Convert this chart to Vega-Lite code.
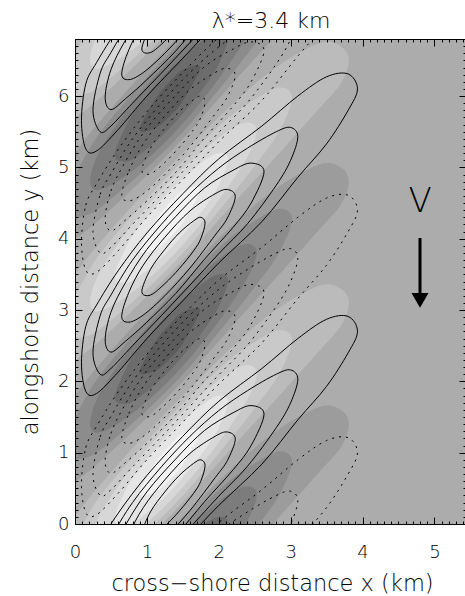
{
  "$schema": "https://vega.github.io/schema/vega-lite/v6.json",
  "width": 391,
  "height": 485,
  "autosize": {"type": "none"},
  "padding": {"left": 75, "top": 39, "right": 0, "bottom": 72},
  "background": "white",
  "config": {
    "view": {"fill": "#acacac", "stroke": null},
    "font": "DejaVu Sans",
    "axis": {"grid": false, "domain": true, "domainColor": "black", "domainWidth": 1, "tickColor": "black", "tickWidth": 1, "labelColor": "black", "titleColor": "black", "labelFont": "DejaVu Sans", "titleFont": "DejaVu Sans", "labelFontWeight": 200, "titleFontWeight": 200, "zindex": 1}
  },
  "resolve": {"axis": {"x": "independent", "y": "independent"}},
  "datasets": {
    "lines": [
      {"l":1,"i":0,"x":0.09,"a":-2.84,"b":-1.14,"c":0.56,"d":2.26,"e":3.96,"f":5.66},
      {"l":1,"i":1,"x":0.15,"a":-2.33,"b":-0.63,"c":1.07,"d":2.77,"e":4.47,"f":6.17},
      {"l":1,"i":2,"x":0.3,"a":-2.03,"b":-0.33,"c":1.37,"d":3.07,"e":4.77,"f":6.47},
      {"l":1,"i":3,"x":0.6,"a":-1.55,"b":0.15,"c":1.85,"d":3.55,"e":5.25,"f":6.95},
      {"l":1,"i":4,"x":1.0,"a":-1.02,"b":0.68,"c":2.38,"d":4.08,"e":5.78,"f":7.48},
      {"l":1,"i":5,"x":1.5,"a":-0.47,"b":1.23,"c":2.93,"d":4.63,"e":6.33,"f":8.03},
      {"l":1,"i":6,"x":2.0,"a":0.02,"b":1.72,"c":3.42,"d":5.12,"e":6.82,"f":8.52},
      {"l":1,"i":7,"x":2.6,"a":0.48,"b":2.18,"c":3.88,"d":5.58,"e":7.28,"f":8.98},
      {"l":1,"i":8,"x":3.1,"a":0.9,"b":2.6,"c":4.3,"d":6.0,"e":7.7,"f":9.4},
      {"l":1,"i":9,"x":3.5,"a":1.17,"b":2.87,"c":4.57,"d":6.27,"e":7.97,"f":9.67},
      {"l":1,"i":10,"x":3.8,"a":1.21,"b":2.91,"c":4.61,"d":6.31,"e":8.01,"f":9.71},
      {"l":1,"i":11,"x":3.93,"a":1.0,"b":2.7,"c":4.4,"d":6.1,"e":7.8,"f":9.5},
      {"l":1,"i":12,"x":3.8,"a":0.7,"b":2.4,"c":4.1,"d":5.8,"e":7.5,"f":9.2},
      {"l":1,"i":13,"x":3.5,"a":0.23,"b":1.93,"c":3.63,"d":5.33,"e":7.03,"f":8.73},
      {"l":1,"i":14,"x":3.1,"a":-0.24,"b":1.46,"c":3.16,"d":4.86,"e":6.56,"f":8.26},
      {"l":1,"i":15,"x":2.6,"a":-0.86,"b":0.84,"c":2.54,"d":4.24,"e":5.94,"f":7.64},
      {"l":1,"i":16,"x":2.0,"a":-1.44,"b":0.26,"c":1.96,"d":3.66,"e":5.36,"f":7.06},
      {"l":1,"i":17,"x":1.5,"a":-1.97,"b":-0.27,"c":1.43,"d":3.13,"e":4.83,"f":6.53},
      {"l":1,"i":18,"x":1.0,"a":-2.5,"b":-0.8,"c":0.9,"d":2.6,"e":4.3,"f":6.0},
      {"l":1,"i":19,"x":0.6,"a":-2.97,"b":-1.27,"c":0.43,"d":2.13,"e":3.83,"f":5.53},
      {"l":1,"i":20,"x":0.3,"a":-3.27,"b":-1.57,"c":0.13,"d":1.83,"e":3.53,"f":5.23},
      {"l":1,"i":21,"x":0.15,"a":-3.24,"b":-1.54,"c":0.16,"d":1.86,"e":3.56,"f":5.26},

      {"l":2,"i":0,"x":0.25,"a":-2.7,"b":-1.0,"c":0.7,"d":2.4,"e":4.1,"f":5.8},
      {"l":2,"i":1,"x":0.35,"a":-2.18,"b":-0.48,"c":1.22,"d":2.92,"e":4.62,"f":6.32},
      {"l":2,"i":2,"x":0.5,"a":-1.89,"b":-0.19,"c":1.51,"d":3.21,"e":4.91,"f":6.61},
      {"l":2,"i":3,"x":0.8,"a":-1.4,"b":0.3,"c":2.0,"d":3.7,"e":5.4,"f":7.1},
      {"l":2,"i":4,"x":1.2,"a":-0.9,"b":0.8,"c":2.5,"d":4.2,"e":5.9,"f":7.6},
      {"l":2,"i":5,"x":1.6,"a":-0.47,"b":1.23,"c":2.93,"d":4.63,"e":6.33,"f":8.03},
      {"l":2,"i":6,"x":2.0,"a":-0.11,"b":1.59,"c":3.29,"d":4.99,"e":6.69,"f":8.39},
      {"l":2,"i":7,"x":2.4,"a":0.17,"b":1.87,"c":3.57,"d":5.27,"e":6.97,"f":8.67},
      {"l":2,"i":8,"x":2.8,"a":0.4,"b":2.1,"c":3.8,"d":5.5,"e":7.2,"f":8.9},
      {"l":2,"i":9,"x":3.0,"a":0.46,"b":2.16,"c":3.86,"d":5.56,"e":7.26,"f":8.96},
      {"l":2,"i":10,"x":3.1,"a":0.33,"b":2.03,"c":3.73,"d":5.43,"e":7.13,"f":8.83},
      {"l":2,"i":11,"x":3.0,"a":0.0,"b":1.7,"c":3.4,"d":5.1,"e":6.8,"f":8.5},
      {"l":2,"i":12,"x":2.8,"a":-0.35,"b":1.35,"c":3.05,"d":4.75,"e":6.45,"f":8.15},
      {"l":2,"i":13,"x":2.4,"a":-0.89,"b":0.81,"c":2.51,"d":4.21,"e":5.91,"f":7.61},
      {"l":2,"i":14,"x":2.0,"a":-1.31,"b":0.39,"c":2.09,"d":3.79,"e":5.49,"f":7.19},
      {"l":2,"i":15,"x":1.6,"a":-1.75,"b":-0.05,"c":1.65,"d":3.35,"e":5.05,"f":6.75},
      {"l":2,"i":16,"x":1.2,"a":-2.18,"b":-0.48,"c":1.22,"d":2.92,"e":4.62,"f":6.32},
      {"l":2,"i":17,"x":0.8,"a":-2.6,"b":-0.9,"c":0.8,"d":2.5,"e":4.2,"f":5.9},
      {"l":2,"i":18,"x":0.5,"a":-2.92,"b":-1.22,"c":0.48,"d":2.18,"e":3.88,"f":5.58},
      {"l":2,"i":19,"x":0.35,"a":-3.0,"b":-1.3,"c":0.4,"d":2.1,"e":3.8,"f":5.5},

      {"l":3,"i":0,"x":0.42,"a":-2.52,"b":-0.82,"c":0.88,"d":2.58,"e":4.28,"f":5.98},
      {"l":3,"i":1,"x":0.5,"a":-2.13,"b":-0.43,"c":1.27,"d":2.97,"e":4.67,"f":6.37},
      {"l":3,"i":2,"x":0.7,"a":-1.72,"b":-0.02,"c":1.68,"d":3.38,"e":5.08,"f":6.78},
      {"l":3,"i":3,"x":1.0,"a":-1.25,"b":0.45,"c":2.15,"d":3.85,"e":5.55,"f":7.25},
      {"l":3,"i":4,"x":1.4,"a":-0.79,"b":0.91,"c":2.61,"d":4.31,"e":6.01,"f":7.71},
      {"l":3,"i":5,"x":1.8,"a":-0.39,"b":1.31,"c":3.01,"d":4.71,"e":6.41,"f":8.11},
      {"l":3,"i":6,"x":2.2,"a":-0.14,"b":1.56,"c":3.26,"d":4.96,"e":6.66,"f":8.36},
      {"l":3,"i":7,"x":2.45,"a":-0.04,"b":1.66,"c":3.36,"d":5.06,"e":6.76,"f":8.46},
      {"l":3,"i":8,"x":2.63,"a":-0.16,"b":1.54,"c":3.24,"d":4.94,"e":6.64,"f":8.34},
      {"l":3,"i":9,"x":2.45,"a":-0.6,"b":1.1,"c":2.8,"d":4.5,"e":6.2,"f":7.9},
      {"l":3,"i":10,"x":2.2,"a":-0.94,"b":0.76,"c":2.46,"d":4.16,"e":5.86,"f":7.56},
      {"l":3,"i":11,"x":1.8,"a":-1.39,"b":0.31,"c":2.01,"d":3.71,"e":5.41,"f":7.11},
      {"l":3,"i":12,"x":1.4,"a":-1.87,"b":-0.17,"c":1.53,"d":3.23,"e":4.93,"f":6.63},
      {"l":3,"i":13,"x":1.0,"a":-2.27,"b":-0.57,"c":1.13,"d":2.83,"e":4.53,"f":6.23},
      {"l":3,"i":14,"x":0.7,"a":-2.54,"b":-0.84,"c":0.86,"d":2.56,"e":4.26,"f":5.96},
      {"l":3,"i":15,"x":0.5,"a":-2.69,"b":-0.99,"c":0.71,"d":2.41,"e":4.11,"f":5.81},

      {"l":4,"i":0,"x":0.65,"a":-2.19,"b":-0.49,"c":1.21,"d":2.91,"e":4.61,"f":6.31},
      {"l":4,"i":1,"x":0.75,"a":-1.85,"b":-0.15,"c":1.55,"d":3.25,"e":4.95,"f":6.65},
      {"l":4,"i":2,"x":0.95,"a":-1.47,"b":0.23,"c":1.93,"d":3.63,"e":5.33,"f":7.03},
      {"l":4,"i":3,"x":1.25,"a":-1.08,"b":0.62,"c":2.32,"d":4.02,"e":5.72,"f":7.42},
      {"l":4,"i":4,"x":1.6,"a":-0.71,"b":0.99,"c":2.69,"d":4.39,"e":6.09,"f":7.79},
      {"l":4,"i":5,"x":1.95,"a":-0.47,"b":1.23,"c":2.93,"d":4.63,"e":6.33,"f":8.03},
      {"l":4,"i":6,"x":2.12,"a":-0.41,"b":1.29,"c":2.99,"d":4.69,"e":6.39,"f":8.09},
      {"l":4,"i":7,"x":2.23,"a":-0.51,"b":1.19,"c":2.89,"d":4.59,"e":6.29,"f":7.99},
      {"l":4,"i":8,"x":2.12,"a":-0.81,"b":0.89,"c":2.59,"d":4.29,"e":5.99,"f":7.69},
      {"l":4,"i":9,"x":1.95,"a":-1.05,"b":0.65,"c":2.35,"d":4.05,"e":5.75,"f":7.45},
      {"l":4,"i":10,"x":1.6,"a":-1.51,"b":0.19,"c":1.89,"d":3.59,"e":5.29,"f":6.99},
      {"l":4,"i":11,"x":1.25,"a":-1.9,"b":-0.2,"c":1.5,"d":3.2,"e":4.9,"f":6.6},
      {"l":4,"i":12,"x":0.95,"a":-2.17,"b":-0.47,"c":1.23,"d":2.93,"e":4.63,"f":6.33},
      {"l":4,"i":13,"x":0.75,"a":-2.27,"b":-0.57,"c":1.13,"d":2.83,"e":4.53,"f":6.23},

      {"l":5,"i":0,"x":0.93,"a":-1.84,"b":-0.14,"c":1.56,"d":3.26,"e":4.96,"f":6.66},
      {"l":5,"i":1,"x":1.05,"a":-1.53,"b":0.17,"c":1.87,"d":3.57,"e":5.27,"f":6.97},
      {"l":5,"i":2,"x":1.25,"a":-1.25,"b":0.45,"c":2.15,"d":3.85,"e":5.55,"f":7.25},
      {"l":5,"i":3,"x":1.45,"a":-1.02,"b":0.68,"c":2.38,"d":4.08,"e":5.78,"f":7.48},
      {"l":5,"i":4,"x":1.65,"a":-0.85,"b":0.85,"c":2.55,"d":4.25,"e":5.95,"f":7.65},
      {"l":5,"i":5,"x":1.75,"a":-0.8,"b":0.9,"c":2.6,"d":4.3,"e":6.0,"f":7.7},
      {"l":5,"i":6,"x":1.81,"a":-0.88,"b":0.82,"c":2.52,"d":4.22,"e":5.92,"f":7.62},
      {"l":5,"i":7,"x":1.75,"a":-1.1,"b":0.6,"c":2.3,"d":4.0,"e":5.7,"f":7.4},
      {"l":5,"i":8,"x":1.65,"a":-1.27,"b":0.43,"c":2.13,"d":3.83,"e":5.53,"f":7.23},
      {"l":5,"i":9,"x":1.45,"a":-1.52,"b":0.18,"c":1.88,"d":3.58,"e":5.28,"f":6.98},
      {"l":5,"i":10,"x":1.25,"a":-1.73,"b":-0.03,"c":1.67,"d":3.37,"e":5.07,"f":6.77},
      {"l":5,"i":11,"x":1.05,"a":-1.89,"b":-0.19,"c":1.51,"d":3.21,"e":4.91,"f":6.61}
    ],
    "shade": [
      {"l":1,"i":0,"x":-0.2,"a":-1.8,"b":-0.1,"c":1.6,"d":3.3,"e":5.0,"f":6.7},
      {"l":1,"i":1,"x":0,"a":-1.59,"b":0.11,"c":1.81,"d":3.51,"e":5.21,"f":6.91},
      {"l":1,"i":2,"x":0.3,"a":-1.21,"b":0.49,"c":2.19,"d":3.89,"e":5.59,"f":7.29},
      {"l":1,"i":3,"x":0.9,"a":-0.53,"b":1.17,"c":2.87,"d":4.57,"e":6.27,"f":7.97},
      {"l":1,"i":4,"x":1.5,"a":0.1,"b":1.8,"c":3.5,"d":5.2,"e":6.9,"f":8.6},
      {"l":1,"i":5,"x":2.13,"a":0.73,"b":2.43,"c":4.13,"d":5.83,"e":7.53,"f":9.23},
      {"l":1,"i":6,"x":2.78,"a":1.29,"b":2.99,"c":4.69,"d":6.39,"e":8.09,"f":9.79},
      {"l":1,"i":7,"x":3.4,"a":1.64,"b":3.34,"c":5.04,"d":6.74,"e":8.44,"f":10.14},
      {"l":1,"i":8,"x":3.7,"a":1.6,"b":3.3,"c":5.0,"d":6.7,"e":8.4,"f":10.1},
      {"l":1,"i":9,"x":3.81,"a":1.4,"b":3.1,"c":4.8,"d":6.5,"e":8.2,"f":9.9},
      {"l":1,"i":10,"x":3.7,"a":1.08,"b":2.78,"c":4.48,"d":6.18,"e":7.88,"f":9.58},
      {"l":1,"i":11,"x":3.4,"a":0.73,"b":2.43,"c":4.13,"d":5.83,"e":7.53,"f":9.23},
      {"l":1,"i":12,"x":2.78,"a":0.03,"b":1.73,"c":3.43,"d":5.13,"e":6.83,"f":8.53},
      {"l":1,"i":13,"x":2.13,"a":-0.69,"b":1.01,"c":2.71,"d":4.41,"e":6.11,"f":7.81},
      {"l":1,"i":14,"x":1.5,"a":-1.4,"b":0.3,"c":2.0,"d":3.7,"e":5.4,"f":7.1},
      {"l":1,"i":15,"x":0.9,"a":-2.01,"b":-0.31,"c":1.39,"d":3.09,"e":4.79,"f":6.49},
      {"l":1,"i":16,"x":0.3,"a":-2.57,"b":-0.87,"c":0.83,"d":2.53,"e":4.23,"f":5.93},
      {"l":1,"i":17,"x":0,"a":-2.81,"b":-1.11,"c":0.59,"d":2.29,"e":3.99,"f":5.69},
      {"l":1,"i":18,"x":-0.2,"a":-3.0,"b":-1.3,"c":0.4,"d":2.1,"e":3.8,"f":5.5},

      {"l":2,"i":0,"x":-0.1,"a":-2.3,"b":-0.6,"c":1.1,"d":2.8,"e":4.5,"f":6.2},
      {"l":2,"i":1,"x":0,"a":-1.92,"b":-0.22,"c":1.48,"d":3.18,"e":4.88,"f":6.58},
      {"l":2,"i":2,"x":0.15,"a":-1.63,"b":0.07,"c":1.77,"d":3.47,"e":5.17,"f":6.87},
      {"l":2,"i":3,"x":0.3,"a":-1.38,"b":0.32,"c":2.02,"d":3.72,"e":5.42,"f":7.12},
      {"l":2,"i":4,"x":0.6,"a":-1.0,"b":0.7,"c":2.4,"d":4.1,"e":5.8,"f":7.5},
      {"l":2,"i":5,"x":1.1,"a":-0.43,"b":1.27,"c":2.97,"d":4.67,"e":6.37,"f":8.07},
      {"l":2,"i":6,"x":1.6,"a":0.09,"b":1.79,"c":3.49,"d":5.19,"e":6.89,"f":8.59},
      {"l":2,"i":7,"x":2.13,"a":0.59,"b":2.29,"c":3.99,"d":5.69,"e":7.39,"f":9.09},
      {"l":2,"i":8,"x":2.53,"a":0.87,"b":2.57,"c":4.27,"d":5.97,"e":7.67,"f":9.37},
      {"l":2,"i":9,"x":2.85,"a":1.02,"b":2.72,"c":4.42,"d":6.12,"e":7.82,"f":9.52},
      {"l":2,"i":10,"x":3.02,"a":0.88,"b":2.58,"c":4.28,"d":5.98,"e":7.68,"f":9.38},
      {"l":2,"i":11,"x":2.85,"a":0.42,"b":2.12,"c":3.82,"d":5.52,"e":7.22,"f":8.92},
      {"l":2,"i":12,"x":2.53,"a":-0.04,"b":1.66,"c":3.36,"d":5.06,"e":6.76,"f":8.46},
      {"l":2,"i":13,"x":2.13,"a":-0.55,"b":1.15,"c":2.85,"d":4.55,"e":6.25,"f":7.95},
      {"l":2,"i":14,"x":1.6,"a":-1.19,"b":0.51,"c":2.21,"d":3.91,"e":5.61,"f":7.31},
      {"l":2,"i":15,"x":1.1,"a":-1.71,"b":-0.01,"c":1.69,"d":3.39,"e":5.09,"f":6.79},
      {"l":2,"i":16,"x":0.6,"a":-2.16,"b":-0.46,"c":1.24,"d":2.94,"e":4.64,"f":6.34},
      {"l":2,"i":17,"x":0.3,"a":-2.4,"b":-0.7,"c":1.0,"d":2.7,"e":4.4,"f":6.1},
      {"l":2,"i":18,"x":0.15,"a":-2.47,"b":-0.77,"c":0.93,"d":2.63,"e":4.33,"f":6.03},
      {"l":2,"i":19,"x":0,"a":-2.48,"b":-0.78,"c":0.92,"d":2.62,"e":4.32,"f":6.02},

      {"l":3,"i":0,"x":0.21,"a":-1.99,"b":-0.29,"c":1.41,"d":3.11,"e":4.81,"f":6.51},
      {"l":3,"i":1,"x":0.3,"a":-1.66,"b":0.04,"c":1.74,"d":3.44,"e":5.14,"f":6.84},
      {"l":3,"i":2,"x":0.55,"a":-1.24,"b":0.46,"c":2.16,"d":3.86,"e":5.56,"f":7.26},
      {"l":3,"i":3,"x":0.9,"a":-0.77,"b":0.93,"c":2.63,"d":4.33,"e":6.03,"f":7.73},
      {"l":3,"i":4,"x":1.3,"a":-0.32,"b":1.38,"c":3.08,"d":4.78,"e":6.48,"f":8.18},
      {"l":3,"i":5,"x":1.74,"a":0.1,"b":1.8,"c":3.5,"d":5.2,"e":6.9,"f":8.6},
      {"l":3,"i":6,"x":2.13,"a":0.41,"b":2.11,"c":3.81,"d":5.51,"e":7.21,"f":8.91},
      {"l":3,"i":7,"x":2.4,"a":0.53,"b":2.23,"c":3.93,"d":5.63,"e":7.33,"f":9.03},
      {"l":3,"i":8,"x":2.53,"a":0.41,"b":2.11,"c":3.81,"d":5.51,"e":7.21,"f":8.91},
      {"l":3,"i":9,"x":2.4,"a":0.05,"b":1.75,"c":3.45,"d":5.15,"e":6.85,"f":8.55},
      {"l":3,"i":10,"x":2.13,"a":-0.37,"b":1.33,"c":3.03,"d":4.73,"e":6.43,"f":8.13},
      {"l":3,"i":11,"x":1.74,"a":-0.9,"b":0.8,"c":2.5,"d":4.2,"e":5.9,"f":7.6},
      {"l":3,"i":12,"x":1.3,"a":-1.4,"b":0.3,"c":2.0,"d":3.7,"e":5.4,"f":7.1},
      {"l":3,"i":13,"x":0.9,"a":-1.77,"b":-0.07,"c":1.63,"d":3.33,"e":5.03,"f":6.73},
      {"l":3,"i":14,"x":0.55,"a":-2.02,"b":-0.32,"c":1.38,"d":3.08,"e":4.78,"f":6.48},
      {"l":3,"i":15,"x":0.3,"a":-2.12,"b":-0.42,"c":1.28,"d":2.98,"e":4.68,"f":6.38},

      {"l":4,"i":0,"x":0.55,"a":-1.63,"b":0.07,"c":1.77,"d":3.47,"e":5.17,"f":6.87},
      {"l":4,"i":1,"x":0.7,"a":-1.24,"b":0.46,"c":2.16,"d":3.86,"e":5.56,"f":7.26},
      {"l":4,"i":2,"x":0.9,"a":-0.92,"b":0.78,"c":2.48,"d":4.18,"e":5.88,"f":7.58},
      {"l":4,"i":3,"x":1.3,"a":-0.45,"b":1.25,"c":2.95,"d":4.65,"e":6.35,"f":8.05},
      {"l":4,"i":4,"x":1.74,"a":-0.05,"b":1.65,"c":3.35,"d":5.05,"e":6.75,"f":8.45},
      {"l":4,"i":5,"x":2.0,"a":0.1,"b":1.8,"c":3.5,"d":5.2,"e":6.9,"f":8.6},
      {"l":4,"i":6,"x":2.13,"a":0.02,"b":1.72,"c":3.42,"d":5.12,"e":6.82,"f":8.52},
      {"l":4,"i":7,"x":2.0,"a":-0.35,"b":1.35,"c":3.05,"d":4.75,"e":6.45,"f":8.15},
      {"l":4,"i":8,"x":1.74,"a":-0.75,"b":0.95,"c":2.65,"d":4.35,"e":6.05,"f":7.75},
      {"l":4,"i":9,"x":1.3,"a":-1.27,"b":0.43,"c":2.13,"d":3.83,"e":5.53,"f":7.23},
      {"l":4,"i":10,"x":0.9,"a":-1.62,"b":0.08,"c":1.78,"d":3.48,"e":5.18,"f":6.88},
      {"l":4,"i":11,"x":0.7,"a":-1.72,"b":-0.02,"c":1.68,"d":3.38,"e":5.08,"f":6.78},

      {"l":5,"i":0,"x":0.9,"a":-1.27,"b":0.43,"c":2.13,"d":3.83,"e":5.53,"f":7.23},
      {"l":5,"i":1,"x":1.1,"a":-0.87,"b":0.83,"c":2.53,"d":4.23,"e":5.93,"f":7.63},
      {"l":5,"i":2,"x":1.3,"a":-0.62,"b":1.08,"c":2.78,"d":4.48,"e":6.18,"f":7.88},
      {"l":5,"i":3,"x":1.5,"a":-0.43,"b":1.27,"c":2.97,"d":4.67,"e":6.37,"f":8.07},
      {"l":5,"i":4,"x":1.74,"a":-0.4,"b":1.3,"c":3.0,"d":4.7,"e":6.4,"f":8.1},
      {"l":5,"i":5,"x":1.5,"a":-0.87,"b":0.83,"c":2.53,"d":4.23,"e":5.93,"f":7.63},
      {"l":5,"i":6,"x":1.3,"a":-1.1,"b":0.6,"c":2.3,"d":4.0,"e":5.7,"f":7.4},
      {"l":5,"i":7,"x":1.1,"a":-1.26,"b":0.44,"c":2.14,"d":3.84,"e":5.54,"f":7.24}
    ]
  },
  "layer": [
    {
      "data": {"name": "shade"},
      "transform": [{"filter": "datum.l == 1"}, {"fold": ["b", "d", "f"], "as": ["copy", "y"]}],
      "mark": {"type": "line", "filled": true, "interpolate": "cardinal-closed", "clip": true, "color": "#bbbbbb", "strokeWidth": 0},
      "encoding": {
        "x": {"field": "x", "type": "quantitative", "scale": {"domain": [0, 5.44], "nice": false, "zero": false},
          "axis": {"orient": "bottom", "zindex": 2, "values": [0,0.1,0.2,0.3,0.4,0.5,0.6,0.7,0.8,0.9,1,1.1,1.2,1.3,1.4,1.5,1.6,1.7,1.8,1.9,2,2.1,2.2,2.3,2.4,2.5,2.6,2.7,2.8,2.9,3,3.1,3.2,3.3,3.4,3.5,3.6,3.7,3.8,3.9,4,4.1,4.2,4.3,4.4,4.5,4.6,4.7,4.8,4.9,5,5.1,5.2,5.3,5.4],
            "labelExpr": "datum.value % 1 === 0 ? datum.value : ''", "labelOverlap": false, "labelBound": false, "labelFlush": false, "labelFontSize": 18, "labelPadding": 26,
            "tickSize": {"condition": {"test": "datum.value % 1 === 0", "value": -7}, "value": -3},
            "title": "cross−shore distance x (km)", "titleFontSize": 22.5, "titleX": 197, "titleY": 66, "titleBaseline": "alphabetic", "titleAlign": "center"}},
        "y": {"field": "y", "type": "quantitative", "scale": {"domain": [0, 6.8], "nice": false, "zero": false},
          "axis": {"orient": "left", "zindex": 2, "values": [0,0.1,0.2,0.3,0.4,0.5,0.6,0.7,0.8,0.9,1,1.1,1.2,1.3,1.4,1.5,1.6,1.7,1.8,1.9,2,2.1,2.2,2.3,2.4,2.5,2.6,2.7,2.8,2.9,3,3.1,3.2,3.3,3.4,3.5,3.6,3.7,3.8,3.9,4,4.1,4.2,4.3,4.4,4.5,4.6,4.7,4.8,4.9,5,5.1,5.2,5.3,5.4,5.5,5.6,5.7,5.8,5.9,6,6.1,6.2,6.3,6.4,6.5,6.6,6.7,6.8],
            "labelExpr": "datum.value % 1 === 0 ? datum.value : ''", "labelOverlap": false, "labelBound": false, "labelFlush": false, "labelFontSize": 18, "labelPadding": 13,
            "tickSize": {"condition": {"test": "datum.value % 1 === 0", "value": -7}, "value": -3},
            "title": "alongshore distance y (km)", "titleFontSize": 22.5, "titleX": -38, "titleBaseline": "alphabetic"}},
        "detail": {"field": "copy"},
        "order": {"field": "i"}
      }
    },
    {
      "data": {"name": "shade"},
      "transform": [{"filter": "datum.l == 1"}, {"fold": ["a", "c", "e"], "as": ["copy", "y"]}],
      "mark": {"type": "line", "filled": true, "interpolate": "cardinal-closed", "clip": true, "color": "#9c9c9c", "strokeWidth": 0},
      "encoding": {
        "x": {"field": "x", "type": "quantitative",
          "axis": {"orient": "top", "zindex": 2, "values": [0,0.1,0.2,0.3,0.4,0.5,0.6,0.7,0.8,0.9,1,1.1,1.2,1.3,1.4,1.5,1.6,1.7,1.8,1.9,2,2.1,2.2,2.3,2.4,2.5,2.6,2.7,2.8,2.9,3,3.1,3.2,3.3,3.4,3.5,3.6,3.7,3.8,3.9,4,4.1,4.2,4.3,4.4,4.5,4.6,4.7,4.8,4.9,5,5.1,5.2,5.3,5.4],
            "labels": false,
            "tickSize": {"condition": {"test": "datum.value % 1 === 0", "value": -7}, "value": -3},
            "title": "λ*=3.4 km", "titleFontSize": 22, "titleX": 195.5, "titleY": -12, "titleBaseline": "alphabetic", "titleAlign": "center", "titleAngle": 0}},
        "y": {"field": "y", "type": "quantitative",
          "axis": {"orient": "right", "zindex": 2, "values": [0,0.1,0.2,0.3,0.4,0.5,0.6,0.7,0.8,0.9,1,1.1,1.2,1.3,1.4,1.5,1.6,1.7,1.8,1.9,2,2.1,2.2,2.3,2.4,2.5,2.6,2.7,2.8,2.9,3,3.1,3.2,3.3,3.4,3.5,3.6,3.7,3.8,3.9,4,4.1,4.2,4.3,4.4,4.5,4.6,4.7,4.8,4.9,5,5.1,5.2,5.3,5.4,5.5,5.6,5.7,5.8,5.9,6,6.1,6.2,6.3,6.4,6.5,6.6,6.7,6.8],
            "labels": false, "title": null,
            "tickSize": {"condition": {"test": "datum.value % 1 === 0", "value": -7}, "value": -3}}},
        "detail": {"field": "copy"},
        "order": {"field": "i"}
      }
    },
    {
      "data": {"name": "shade"},
      "transform": [{"filter": "datum.l == 2"}, {"fold": ["b", "d", "f"], "as": ["copy", "y"]}],
      "mark": {"type": "line", "filled": true, "interpolate": "cardinal-closed", "clip": true, "color": "#c9c9c9", "strokeWidth": 0},
      "encoding": {"x": {"field": "x", "type": "quantitative", "axis": null}, "y": {"field": "y", "type": "quantitative", "axis": null}, "detail": {"field": "copy"}, "order": {"field": "i"}}
    },
    {
      "data": {"name": "shade"},
      "transform": [{"filter": "datum.l == 2"}, {"fold": ["a", "c", "e"], "as": ["copy", "y"]}],
      "mark": {"type": "line", "filled": true, "interpolate": "cardinal-closed", "clip": true, "color": "#8c8c8c", "strokeWidth": 0},
      "encoding": {"x": {"field": "x", "type": "quantitative", "axis": null}, "y": {"field": "y", "type": "quantitative", "axis": null}, "detail": {"field": "copy"}, "order": {"field": "i"}}
    },
    {
      "data": {"name": "shade"},
      "transform": [{"filter": "datum.l == 3"}, {"fold": ["b", "d", "f"], "as": ["copy", "y"]}],
      "mark": {"type": "line", "filled": true, "interpolate": "cardinal-closed", "clip": true, "color": "#d7d7d7", "strokeWidth": 0},
      "encoding": {"x": {"field": "x", "type": "quantitative", "axis": null}, "y": {"field": "y", "type": "quantitative", "axis": null}, "detail": {"field": "copy"}, "order": {"field": "i"}}
    },
    {
      "data": {"name": "shade"},
      "transform": [{"filter": "datum.l == 3"}, {"fold": ["a", "c", "e"], "as": ["copy", "y"]}],
      "mark": {"type": "line", "filled": true, "interpolate": "cardinal-closed", "clip": true, "color": "#7c7c7c", "strokeWidth": 0},
      "encoding": {"x": {"field": "x", "type": "quantitative", "axis": null}, "y": {"field": "y", "type": "quantitative", "axis": null}, "detail": {"field": "copy"}, "order": {"field": "i"}}
    },
    {
      "data": {"name": "shade"},
      "transform": [{"filter": "datum.l == 4"}, {"fold": ["b", "d", "f"], "as": ["copy", "y"]}],
      "mark": {"type": "line", "filled": true, "interpolate": "cardinal-closed", "clip": true, "color": "#e5e5e5", "strokeWidth": 0},
      "encoding": {"x": {"field": "x", "type": "quantitative", "axis": null}, "y": {"field": "y", "type": "quantitative", "axis": null}, "detail": {"field": "copy"}, "order": {"field": "i"}}
    },
    {
      "data": {"name": "shade"},
      "transform": [{"filter": "datum.l == 4"}, {"fold": ["a", "c", "e"], "as": ["copy", "y"]}],
      "mark": {"type": "line", "filled": true, "interpolate": "cardinal-closed", "clip": true, "color": "#6c6c6c", "strokeWidth": 0},
      "encoding": {"x": {"field": "x", "type": "quantitative", "axis": null}, "y": {"field": "y", "type": "quantitative", "axis": null}, "detail": {"field": "copy"}, "order": {"field": "i"}}
    },
    {
      "data": {"name": "shade"},
      "transform": [{"filter": "datum.l == 5"}, {"fold": ["b", "d", "f"], "as": ["copy", "y"]}],
      "mark": {"type": "line", "filled": true, "interpolate": "cardinal-closed", "clip": true, "color": "#f2f2f2", "strokeWidth": 0},
      "encoding": {"x": {"field": "x", "type": "quantitative", "axis": null}, "y": {"field": "y", "type": "quantitative", "axis": null}, "detail": {"field": "copy"}, "order": {"field": "i"}}
    },
    {
      "data": {"name": "shade"},
      "transform": [{"filter": "datum.l == 5"}, {"fold": ["a", "c", "e"], "as": ["copy", "y"]}],
      "mark": {"type": "line", "filled": true, "interpolate": "cardinal-closed", "clip": true, "color": "#5c5c5c", "strokeWidth": 0},
      "encoding": {"x": {"field": "x", "type": "quantitative", "axis": null}, "y": {"field": "y", "type": "quantitative", "axis": null}, "detail": {"field": "copy"}, "order": {"field": "i"}}
    },
    {
      "data": {"name": "lines"},
      "transform": [{"fold": ["b", "d", "f"], "as": ["copy", "y"]}],
      "mark": {"type": "line", "interpolate": "cardinal-closed", "clip": true, "color": "black", "strokeWidth": 1},
      "encoding": {"x": {"field": "x", "type": "quantitative", "axis": null}, "y": {"field": "y", "type": "quantitative", "axis": null}, "detail": [{"field": "l"}, {"field": "copy"}], "order": {"field": "i"}}
    },
    {
      "data": {"name": "lines"},
      "transform": [{"fold": ["a", "c", "e"], "as": ["copy", "y"]}],
      "mark": {"type": "line", "interpolate": "cardinal-closed", "clip": true, "color": "black", "strokeWidth": 1, "strokeDash": [2, 5]},
      "encoding": {"x": {"field": "x", "type": "quantitative", "axis": null}, "y": {"field": "y", "type": "quantitative", "axis": null}, "detail": [{"field": "l"}, {"field": "copy"}], "order": {"field": "i"}}
    },
    {
      "data": {"values": [{"x": 4.8, "y": 4.01, "y2": 3.2}]},
      "mark": {"type": "rule", "color": "black", "strokeWidth": 3},
      "encoding": {"x": {"field": "x", "type": "quantitative", "axis": null}, "y": {"field": "y", "type": "quantitative", "axis": null}, "y2": {"field": "y2"}}
    },
    {
      "data": {"values": [{"x": 4.8, "y": 3.136}]},
      "mark": {"type": "point", "shape": "triangle-down", "filled": true, "color": "black", "size": 290, "opacity": 1},
      "encoding": {"x": {"field": "x", "type": "quantitative", "axis": null}, "y": {"field": "y", "type": "quantitative", "axis": null}}
    },
    {
      "data": {"values": [{"x": 4.8, "y": 4.51, "t": "V"}]},
      "mark": {"type": "text", "fontSize": 34, "fontWeight": 200, "color": "black", "baseline": "middle", "align": "center"},
      "encoding": {"x": {"field": "x", "type": "quantitative", "axis": null}, "y": {"field": "y", "type": "quantitative", "axis": null}, "text": {"field": "t"}}
    }
  ]
}
